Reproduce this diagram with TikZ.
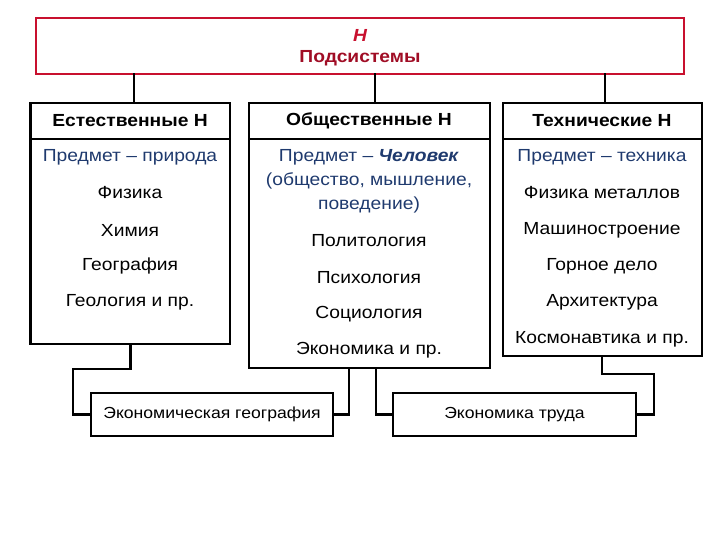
\documentclass[tikz,border=0pt]{standalone}
\usepackage{fontspec}
\setmainfont[FakeStretch=1.1]{Liberation Sans}
\begin{document}
\begin{tikzpicture}[x=1pt,y=-1pt,
  box/.style={draw,line width=2.6pt,inner sep=0pt},
  ln/.style={line width=2.6pt,line cap=rect},
  txt/.style={font=\fontsize{17.5}{20}\selectfont,align=center,inner sep=0pt},
  subj/.style={txt,text=subjblue},
  hdr/.style={font=\bfseries\fontsize{17.5}{20}\selectfont,inner sep=0pt}]
\definecolor{subjblue}{HTML}{1F3A6E}
\definecolor{topred}{HTML}{C8102E}
\useasboundingbox (0,0) rectangle (720,540);
% top
\draw[draw=topred,line width=2.6pt] (36,18) rectangle (684,74);
\node[font=\bfseries\itshape\fontsize{17.5}{20}\selectfont,text=topred] (tH) at (360,35) {Н};
\node[hdr,text=topred!80!black] (tP) at (360,58) {Подсистемы};
\coordinate (t1) at (134,74); \coordinate (t2) at (375,74); \coordinate (t3) at (605,74);
% headers
\draw[box] (30.5,103) rectangle (230,139); \node[hdr] (h1) at (130,121) {Естественные Н};
\draw[box] (249,103) rectangle (490,139); \node[hdr] (h2) at (369,121) {Общественные Н};
\draw[box] (503,103) rectangle (702,139); \node[hdr] (h3) at (602,121) {Технические Н};
\coordinate (b1t) at (134,103); \coordinate (b2t) at (375,103); \coordinate (b3t) at (605,103);
\draw[ln] (t1)--(b1t); \draw[ln] (t2)--(b2t); \draw[ln] (t3)--(b3t);
% bodies
\draw[box] (30.5,139) rectangle (230,344);
\draw[box] (249,139) rectangle (490,368);
\draw[box] (503,139) rectangle (702,356);
\node[subj] (l0) at (130,157) {Предмет – природа};
\node[txt] (l1) at (130,193) {Физика};
\node[txt] (l2) at (130,230) {Химия};
\node[txt] (l3) at (130,266) {География};
\node[txt] (l4) at (130,302) {Геология и пр.};
\node[subj] (m0) at (369,157) {Предмет – \textbf{\textit{Человек}}};
\node[subj] (m1) at (369,181) {(общество, мышление,};
\node[subj] (m2) at (369,205) {поведение)};
\node[txt] (m3) at (369,241) {Политология};
\node[txt] (m4) at (369,278) {Психология};
\node[txt] (m5) at (369,314) {Социология};
\node[txt] (m6) at (369,350) {Экономика и пр.};
\node[subj] (r0) at (602,157) {Предмет – техника};
\node[txt] (r1) at (602,193) {Физика металлов};
\node[txt] (r2) at (602,230) {Машиностроение};
\node[txt] (r3) at (602,266) {Горное дело};
\node[txt] (r4) at (602,302) {Архитектура};
\node[txt] (r5) at (602,339) {Космонавтика и пр.};
% bottom
\node[box,minimum width=242pt,minimum height=43pt,font=\fontsize{16}{18}\selectfont] (eg) at (212,414.5) {Экономическая география};
\node[box,minimum width=243pt,minimum height=43pt,font=\fontsize{16}{18}\selectfont] (et) at (514.5,414.5) {Экономика труда};
\coordinate (c1) at (130.5,344); \coordinate (c2) at (349,368); \coordinate (c3) at (376,368); \coordinate (c4) at (602,356);
\draw[ln] (c1)--(130.5,369)--(73,369)--(73,414.5)--(eg.west);
\draw[ln] (c2)--(349,414.5)--(eg.east);
\draw[ln] (c3)--(376,414.5)--(et.west);
\draw[ln] (c4)--(602,374)--(654,374)--(654,414.5)--(et.east);
\end{tikzpicture}
\end{document}
